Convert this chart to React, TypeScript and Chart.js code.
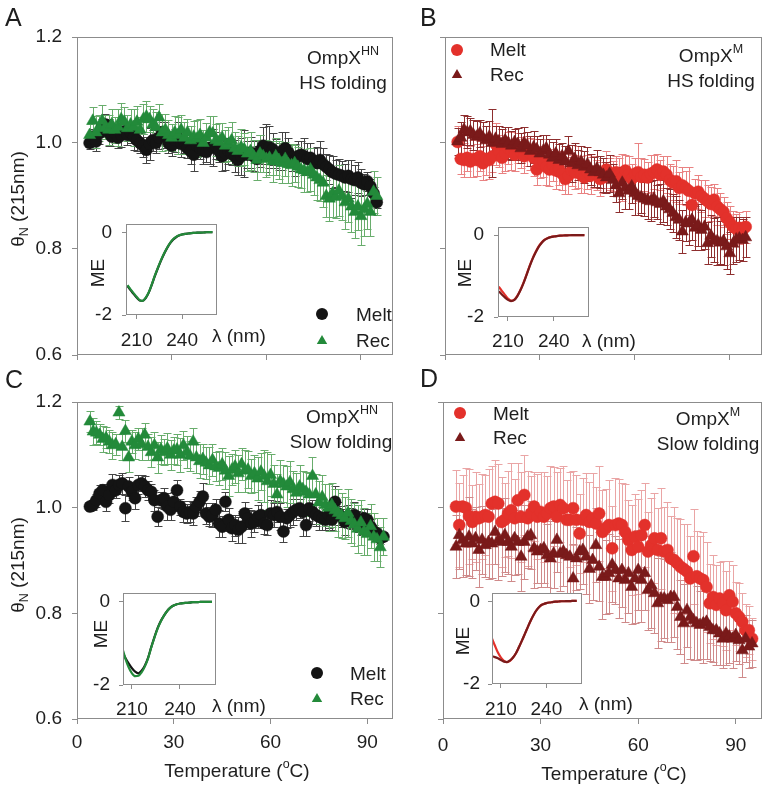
import React, { useEffect, useRef } from "react";
import { Chart, registerables } from "chart.js";

Chart.register(...registerables);

const FONT = "'Liberation Sans', Arial, Helvetica, sans-serif";
const TEXT = "#1e1e1e";
const AXIS = "#8c8c8c";

// ---------------- data ----------------
const temperatures = [
  4, 5, 6, 7, 8, 9, 10, 11, 12, 13,
  14, 15, 16, 17, 18, 19, 20, 21, 22, 23,
  24, 25, 26, 27, 28, 29, 30, 31, 32, 33,
  34, 35, 36, 37, 38, 39, 40, 41, 42, 43,
  44, 45, 46, 47, 48, 49, 50, 51, 52, 53,
  54, 55, 56, 57, 58, 59, 60, 61, 62, 63,
  64, 65, 66, 67, 68, 69, 70, 71, 72, 73,
  74, 75, 76, 77, 78, 79, 80, 81, 82, 83,
  84, 85, 86, 87, 88, 89, 90, 91, 92, 93,
  94, 95,
];

const xTickValues = [0, 30, 60, 90];
const yTickValues = [0.6, 0.8, 1.0, 1.2];
const insetXTickValues = [210, 240];
const insetYTickValues = [-2, 0];

// Panel A: OmpX HN, HS folding
const meltA = [
  1.000, 1.012, 1.003, 1.018, 1.030, 1.035, 1.020, 1.012, 1.018, 1.010,
  1.015, 1.022, 1.015, 1.020, 1.012, 1.005, 1.000, 0.995, 0.987, 0.998,
  1.005, 1.000, 1.010, 1.020, 1.015, 1.000, 0.995, 1.005, 1.010, 0.998,
  1.002, 0.990, 0.985, 0.978, 0.995, 0.990, 0.985, 0.983, 0.990, 0.992,
  0.995, 0.985, 0.975, 0.980, 0.985, 0.980, 0.975, 0.968, 0.975, 0.980,
  0.978, 0.982, 0.975, 0.970, 0.985, 0.995, 0.990, 0.992, 0.988, 0.980,
  0.975, 0.985, 0.990, 0.982, 0.972, 0.968, 0.975, 0.978, 0.975, 0.970,
  0.972, 0.965, 0.962, 0.968, 0.960, 0.955, 0.950, 0.945, 0.942, 0.940,
  0.938, 0.935, 0.938, 0.932, 0.930, 0.935, 0.925, 0.922, 0.928, 0.918,
  0.905, 0.888,
];
const recA = [
  1.015, 1.042, 1.020, 1.028, 1.042, 1.030, 1.025, 1.035, 1.025, 1.030,
  1.045, 1.040, 1.028, 1.035, 1.030, 1.040, 1.025, 1.045, 1.050, 1.045,
  1.035, 1.030, 1.048, 1.020, 1.025, 1.015, 1.010, 1.020, 1.015, 1.025,
  1.010, 1.020, 1.005, 1.012, 1.008, 1.015, 1.000, 1.010, 1.020, 1.018,
  1.005, 1.002, 1.010, 0.995, 0.998, 1.005, 0.990, 0.985, 0.992, 0.988,
  0.980, 0.985, 0.975, 0.968, 0.980, 0.975, 0.970, 0.972, 0.965, 0.975,
  0.968, 0.962, 0.970, 0.960, 0.958, 0.962, 0.955, 0.950, 0.948, 0.945,
  0.950, 0.940, 0.935, 0.930, 0.925, 0.900, 0.895, 0.905, 0.898, 0.910,
  0.900, 0.888, 0.895, 0.880, 0.870, 0.880, 0.862, 0.875, 0.885, 0.870,
  0.908, 0.900,
];
const errMeltA = [
  0.012, 0.015, 0.018, 0.020, 0.015, 0.020, 0.025, 0.018, 0.015, 0.020,
  0.022, 0.015, 0.018, 0.020, 0.025, 0.020, 0.018, 0.022, 0.025, 0.030,
  0.020, 0.018, 0.022, 0.020, 0.025, 0.018, 0.020, 0.022, 0.030, 0.025,
  0.020, 0.018, 0.025, 0.030, 0.022, 0.020, 0.025, 0.018, 0.030, 0.035,
  0.025, 0.020, 0.028, 0.030, 0.025, 0.022, 0.030, 0.028, 0.035, 0.045,
  0.025, 0.030, 0.028, 0.025, 0.030, 0.035, 0.045, 0.040, 0.030, 0.028,
  0.025, 0.035, 0.030, 0.028, 0.025, 0.030, 0.028, 0.025, 0.035, 0.030,
  0.028, 0.025, 0.030, 0.035, 0.030, 0.025, 0.028, 0.030, 0.025, 0.030,
  0.028, 0.025, 0.030, 0.035, 0.028, 0.030, 0.025, 0.020, 0.018, 0.015,
  0.012, 0.010,
];
const errRecA = [
  0.020, 0.025, 0.030, 0.025, 0.030, 0.022, 0.028, 0.030, 0.025, 0.035,
  0.030, 0.028, 0.025, 0.030, 0.035, 0.030, 0.025, 0.028, 0.030, 0.025,
  0.030, 0.028, 0.025, 0.035, 0.030, 0.028, 0.025, 0.030, 0.035, 0.028,
  0.030, 0.025, 0.028, 0.030, 0.035, 0.030, 0.025, 0.028, 0.030, 0.032,
  0.030, 0.035, 0.028, 0.030, 0.032, 0.035, 0.030, 0.028, 0.035, 0.030,
  0.032, 0.035, 0.030, 0.038, 0.035, 0.030, 0.035, 0.032, 0.038, 0.035,
  0.035, 0.038, 0.032, 0.035, 0.040, 0.035, 0.038, 0.035, 0.040, 0.038,
  0.040, 0.038, 0.042, 0.040, 0.045, 0.040, 0.042, 0.045, 0.040, 0.048,
  0.045, 0.050, 0.045, 0.048, 0.050, 0.045, 0.055, 0.050, 0.048, 0.045,
  0.040, 0.035,
];

// Panel B: OmpX M, HS folding
const meltB = [
  1.002, 0.970, 0.968, 0.972, 0.965, 0.970, 0.968, 0.975, 0.962, 0.970,
  0.968, 0.975, 0.998, 0.985, 0.972, 0.980, 0.990, 0.985, 0.978, 0.990,
  0.982, 0.975, 0.985, 0.980, 0.972, 0.950, 0.962, 0.965, 0.955, 0.950,
  0.958, 0.948, 0.952, 0.942, 0.932, 0.938, 0.948, 0.945, 0.955, 0.940,
  0.935, 0.945, 0.938, 0.945, 0.940, 0.932, 0.935, 0.950, 0.942, 0.938,
  0.945, 0.940, 0.935, 0.948, 0.940, 0.932, 0.942, 0.945, 0.936, 0.940,
  0.935, 0.942, 0.945, 0.950, 0.940, 0.946, 0.940, 0.930, 0.925, 0.928,
  0.915, 0.920, 0.915, 0.910, 0.883, 0.905, 0.908, 0.900, 0.895, 0.890,
  0.885, 0.893, 0.880, 0.875, 0.870, 0.858, 0.850, 0.842, 0.838, 0.840,
  0.836, 0.842,
];
const recB = [
  1.003, 1.010, 1.025, 1.020, 1.022, 1.015, 1.012, 1.018, 1.010, 1.005,
  1.012, 1.000, 1.008, 1.003, 0.998, 1.005, 1.000, 0.995, 1.002, 0.998,
  0.990, 1.000, 0.995, 0.985, 0.992, 0.988, 0.980, 0.985, 0.990, 0.978,
  0.972, 0.980, 0.968, 0.975, 0.965, 0.985, 0.962, 0.970, 0.958, 0.965,
  0.955, 0.960, 0.950, 0.945, 0.952, 0.945, 0.940, 0.935, 0.942, 0.930,
  0.920, 0.905, 0.925, 0.915, 0.910, 0.918, 0.905, 0.900, 0.898, 0.895,
  0.892, 0.890, 0.895, 0.888, 0.885, 0.890, 0.880, 0.875, 0.868, 0.860,
  0.855, 0.833, 0.850, 0.848, 0.855, 0.840, 0.845, 0.836, 0.842, 0.811,
  0.825, 0.817, 0.815, 0.812, 0.815, 0.805, 0.792, 0.810, 0.818, 0.820,
  0.817, 0.822,
];
const errMeltB = [
  0.030, 0.028, 0.032, 0.025, 0.030, 0.035, 0.030, 0.028, 0.032, 0.030,
  0.035, 0.030, 0.040, 0.030, 0.028, 0.032, 0.030, 0.035, 0.030, 0.028,
  0.030, 0.032, 0.028, 0.030, 0.035, 0.030, 0.028, 0.030, 0.035, 0.032,
  0.030, 0.035, 0.032, 0.030, 0.028, 0.035, 0.030, 0.032, 0.040, 0.035,
  0.030, 0.032, 0.035, 0.030, 0.028, 0.032, 0.030, 0.035, 0.030, 0.028,
  0.030, 0.032, 0.045, 0.030, 0.035, 0.028, 0.030, 0.055, 0.035, 0.030,
  0.030, 0.035, 0.032, 0.030, 0.028, 0.030, 0.035, 0.030, 0.032, 0.040,
  0.030, 0.035, 0.032, 0.045, 0.030, 0.028, 0.032, 0.030, 0.035, 0.030,
  0.032, 0.030, 0.035, 0.030, 0.028, 0.030, 0.032, 0.030, 0.028, 0.030,
  0.025, 0.030,
];
const errRecB = [
  0.025, 0.030, 0.028, 0.030, 0.025, 0.028, 0.030, 0.025, 0.030, 0.028,
  0.030, 0.065, 0.025, 0.030, 0.028, 0.025, 0.030, 0.028, 0.025, 0.030,
  0.028, 0.030, 0.025, 0.028, 0.030, 0.025, 0.028, 0.030, 0.025, 0.030,
  0.030, 0.028, 0.030, 0.025, 0.030, 0.028, 0.035, 0.030, 0.028, 0.030,
  0.030, 0.032, 0.030, 0.028, 0.035, 0.030, 0.032, 0.030, 0.035, 0.030,
  0.032, 0.035, 0.030, 0.040, 0.035, 0.032, 0.040, 0.035, 0.030, 0.032,
  0.035, 0.038, 0.035, 0.032, 0.038, 0.040, 0.035, 0.038, 0.035, 0.040,
  0.038, 0.040, 0.035, 0.040, 0.038, 0.042, 0.040, 0.038, 0.042, 0.040,
  0.040, 0.042, 0.045, 0.040, 0.045, 0.042, 0.040, 0.038, 0.042, 0.040,
  0.040, 0.038,
];

// Panel C: OmpX HN, Slow folding
const meltC = [
  1.002, 1.005, 1.014, 1.027, 1.033, 1.011, 1.024, 1.043, 1.033, 1.043,
  1.046, 0.999, 1.040, 1.030, 1.018, 1.043, 1.046, 1.040, 1.033, 1.030,
  1.014, 0.983, 1.014, 1.018, 1.002, 0.996, 1.011, 1.033, 1.002, 0.992,
  0.989, 0.992, 0.989, 1.002, 1.011, 1.021, 0.989, 0.983, 0.986, 0.996,
  0.970, 0.964, 1.011, 0.977, 0.961, 0.967, 0.958, 0.964, 0.989, 0.980,
  0.970, 0.973, 0.983, 0.986, 0.970, 0.967, 0.989, 0.986, 0.992, 0.983,
  0.955, 0.980, 0.986, 0.992, 0.996, 0.999, 0.992, 0.967, 0.999, 0.992,
  0.986, 0.983, 0.980, 0.977, 0.986, 0.977, 1.011, 0.989, 0.983, 0.973,
  0.983, 0.980, 0.986, 0.973, 0.970, 0.980, 0.977, 0.964, 0.955, 0.951,
  0.942, 0.945,
];
const recC = [
  1.163, 1.144, 1.142, 1.138, 1.130, 1.132, 1.125, 1.118, 1.120, 1.180,
  1.115, 1.145, 1.095, 1.125, 1.118, 1.130, 1.120, 1.138, 1.115, 1.105,
  1.118, 1.095, 1.110, 1.105, 1.112, 1.100, 1.108, 1.110, 1.100, 1.118,
  1.105, 1.098, 1.125, 1.095, 1.088, 1.092, 1.085, 1.080, 1.090, 1.078,
  1.075, 1.082, 1.070, 1.060, 1.072, 1.078, 1.065, 1.082, 1.070, 1.072,
  1.060, 1.065, 1.055, 1.068, 1.060, 1.050, 1.062, 1.045, 1.025, 1.050,
  1.045, 1.040, 1.048, 1.035, 1.028, 1.040, 1.035, 1.030, 1.025, 1.060,
  1.025, 1.010, 1.020, 1.005, 1.000, 1.005, 0.995, 0.990, 0.985, 0.980,
  0.990, 0.975, 0.968, 0.960, 0.972, 0.955, 0.950, 0.965, 0.945, 0.940,
  0.925, 0.945,
];
const errMeltC = [
  0.008, 0.010, 0.012, 0.015, 0.012, 0.018, 0.015, 0.020, 0.015, 0.018,
  0.020, 0.025, 0.018, 0.015, 0.020, 0.018, 0.015, 0.020, 0.018, 0.015,
  0.020, 0.018, 0.015, 0.020, 0.025, 0.020, 0.018, 0.020, 0.015, 0.020,
  0.018, 0.020, 0.022, 0.018, 0.020, 0.025, 0.020, 0.018, 0.022, 0.020,
  0.025, 0.020, 0.018, 0.022, 0.025, 0.020, 0.025, 0.030, 0.022, 0.020,
  0.025, 0.020, 0.022, 0.025, 0.020, 0.018, 0.025, 0.022, 0.020, 0.025,
  0.020, 0.018, 0.022, 0.025, 0.020, 0.018, 0.045, 0.020, 0.025, 0.022,
  0.020, 0.025, 0.022, 0.020, 0.025, 0.020, 0.030, 0.022, 0.020, 0.025,
  0.022, 0.020, 0.025, 0.020, 0.022, 0.018, 0.020, 0.015, 0.012, 0.010,
  0.010, 0.008,
];
const errRecC = [
  0.020, 0.025, 0.022, 0.020, 0.025, 0.020, 0.022, 0.025, 0.020, 0.012,
  0.025, 0.020, 0.028, 0.022, 0.025, 0.020, 0.030, 0.022, 0.025, 0.028,
  0.025, 0.030, 0.028, 0.025, 0.030, 0.028, 0.025, 0.030, 0.032, 0.028,
  0.030, 0.028, 0.025, 0.030, 0.032, 0.028, 0.030, 0.035, 0.030, 0.028,
  0.032, 0.030, 0.035, 0.038, 0.030, 0.032, 0.035, 0.030, 0.040, 0.035,
  0.032, 0.035, 0.040, 0.035, 0.050, 0.055, 0.040, 0.035, 0.038, 0.040,
  0.035, 0.038, 0.040, 0.035, 0.038, 0.040, 0.035, 0.038, 0.040, 0.035,
  0.038, 0.040, 0.042, 0.040, 0.045, 0.042, 0.040, 0.045, 0.042, 0.040,
  0.045, 0.042, 0.040, 0.045, 0.042, 0.045, 0.040, 0.042, 0.045, 0.040,
  0.038, 0.035,
];

// Panel D: OmpX M, Slow folding
const meltD = [
  1.002, 0.967, 1.002, 1.000, 0.984, 0.973, 0.983, 0.980, 0.983, 0.986,
  0.983, 1.008, 1.011, 1.008, 0.973, 0.977, 0.989, 0.995, 0.980, 1.014,
  0.983, 1.024, 0.980, 0.989, 1.002, 0.983, 0.992, 0.983, 0.989, 0.999,
  1.002, 0.983, 1.005, 0.999, 0.977, 0.977, 0.999, 0.977, 0.951, 0.977,
  0.986, 0.973, 0.980, 0.970, 0.989, 0.954, 0.961, 0.967, 0.923, 0.967,
  0.970, 0.967, 0.954, 0.939, 0.920, 0.945, 0.926, 0.948, 0.967, 0.917,
  0.929, 0.942, 0.920, 0.942, 0.917, 0.920, 0.904, 0.901, 0.895, 0.888,
  0.884, 0.879, 0.866, 0.908, 0.870, 0.866, 0.863, 0.850, 0.819, 0.831,
  0.816, 0.828, 0.819, 0.806, 0.834, 0.822, 0.800, 0.793, 0.784, 0.768,
  0.768, 0.752,
];
const recD = [
  0.926, 0.948, 0.939, 0.932, 0.945, 0.932, 0.942, 0.920, 0.939, 0.929,
  0.935, 0.932, 0.954, 0.939, 0.935, 0.948, 0.935, 0.926, 0.942, 0.935,
  0.907, 0.935, 0.945, 0.948, 0.923, 0.917, 0.920, 0.923, 0.910, 0.904,
  0.913, 0.939, 0.913, 0.917, 0.910, 0.907, 0.866, 0.904, 0.917, 0.920,
  0.907, 0.884, 0.901, 0.929, 0.888, 0.869, 0.869, 0.876, 0.892, 0.882,
  0.866, 0.882, 0.863, 0.876, 0.850, 0.866, 0.882, 0.863, 0.876, 0.844,
  0.853, 0.838, 0.819, 0.828, 0.828, 0.825, 0.831, 0.831, 0.812, 0.793,
  0.781, 0.806, 0.793, 0.787, 0.781, 0.778, 0.781, 0.784, 0.774, 0.768,
  0.768, 0.762, 0.752, 0.762, 0.756, 0.752, 0.759, 0.749, 0.730, 0.752,
  0.737, 0.743,
];
const errMeltD = [
  0.070, 0.080, 0.060, 0.075, 0.090, 0.070, 0.085, 0.065, 0.080, 0.075,
  0.090, 0.070, 0.080, 0.075, 0.085, 0.070, 0.080, 0.090, 0.075, 0.070,
  0.085, 0.075, 0.090, 0.070, 0.065, 0.080, 0.075, 0.085, 0.070, 0.080,
  0.075, 0.085, 0.070, 0.080, 0.075, 0.090, 0.070, 0.085, 0.075, 0.080,
  0.080, 0.075, 0.085, 0.070, 0.090, 0.080, 0.075, 0.085, 0.080, 0.090,
  0.085, 0.080, 0.090, 0.075, 0.085, 0.080, 0.090, 0.085, 0.080, 0.075,
  0.090, 0.085, 0.080, 0.095, 0.085, 0.090, 0.080, 0.100, 0.085, 0.090,
  0.085, 0.090, 0.080, 0.090, 0.085, 0.080, 0.090, 0.085, 0.075, 0.080,
  0.075, 0.070, 0.080, 0.075, 0.065, 0.070, 0.060, 0.065, 0.055, 0.050,
  0.045, 0.040,
];
const errRecD = [
  0.060, 0.065, 0.070, 0.060, 0.075, 0.065, 0.060, 0.070, 0.065, 0.060,
  0.070, 0.065, 0.060, 0.075, 0.065, 0.070, 0.060, 0.065, 0.070, 0.060,
  0.065, 0.070, 0.060, 0.065, 0.075, 0.060, 0.070, 0.065, 0.060, 0.070,
  0.065, 0.060, 0.070, 0.065, 0.075, 0.070, 0.065, 0.060, 0.070, 0.065,
  0.070, 0.065, 0.075, 0.070, 0.065, 0.080, 0.070, 0.075, 0.070, 0.065,
  0.075, 0.070, 0.080, 0.075, 0.070, 0.085, 0.075, 0.080, 0.070, 0.075,
  0.080, 0.075, 0.085, 0.080, 0.075, 0.080, 0.085, 0.075, 0.080, 0.070,
  0.075, 0.070, 0.080, 0.075, 0.070, 0.065, 0.075, 0.070, 0.065, 0.060,
  0.065, 0.060, 0.055, 0.060, 0.050, 0.055, 0.050, 0.045, 0.050, 0.045,
  0.040, 0.045,
];

// Inset CD spectra (mean residue ellipticity, ME)
const wavelengths = [
  204, 206, 208, 210, 212, 214, 216, 218, 220, 222,
  224, 226, 228, 230, 232, 234, 236, 238, 240, 242,
  244, 246, 248, 250, 252, 254, 256, 258, 260,
];
const insetMeltA = [
  -1.30, -1.40, -1.49, -1.58, -1.65, -1.66, -1.59, -1.46, -1.27, -1.06,
  -0.87, -0.69, -0.53, -0.39, -0.27, -0.18, -0.12, -0.08, -0.055, -0.04,
  -0.03, -0.02, -0.015, -0.01, -0.008, -0.005, 0, 0.003, 0.005,
];
const insetRecA = [
  -1.28, -1.38, -1.47, -1.56, -1.64, -1.66, -1.58, -1.45, -1.26, -1.05,
  -0.86, -0.68, -0.52, -0.38, -0.26, -0.17, -0.11, -0.07, -0.05, -0.04,
  -0.03, -0.02, -0.015, -0.01, -0.008, -0.005, 0, 0.003, 0.005,
];
const insetMeltB = [
  -1.26, -1.36, -1.46, -1.55, -1.60, -1.58, -1.49, -1.35, -1.18, -0.98,
  -0.77, -0.58, -0.42, -0.28, -0.18, -0.11, -0.07, -0.045, -0.03, -0.02,
  -0.012, -0.008, -0.005, -0.002, 0, 0, 0, 0, 0,
];
const insetRecB = [
  -1.37, -1.45, -1.52, -1.58, -1.61, -1.59, -1.50, -1.36, -1.19, -0.99,
  -0.78, -0.59, -0.43, -0.29, -0.19, -0.115, -0.072, -0.047, -0.032, -0.021,
  -0.013, -0.008, -0.005, -0.002, 0, 0, 0, 0, 0,
];
const insetMeltC = [
  -1.22, -1.36, -1.49, -1.60, -1.68, -1.72, -1.66, -1.54, -1.36, -1.10,
  -0.86, -0.64, -0.47, -0.34, -0.23, -0.15, -0.10, -0.07, -0.05, -0.04,
  -0.035, -0.03, -0.02, -0.018, -0.015, -0.012, -0.01, -0.01, -0.01,
];
const insetRecC = [
  -1.12, -1.38, -1.58, -1.72, -1.79, -1.78, -1.70, -1.56, -1.37, -1.11,
  -0.87, -0.65, -0.48, -0.34, -0.23, -0.15, -0.10, -0.07, -0.05, -0.04,
  -0.035, -0.03, -0.02, -0.018, -0.015, -0.012, -0.01, -0.01, -0.01,
];
const insetMeltD = [
  -0.89, -1.07, -1.24, -1.36, -1.44, -1.47, -1.44, -1.36, -1.25, -1.10,
  -0.94, -0.77, -0.60, -0.44, -0.30, -0.19, -0.11, -0.07, -0.045, -0.03,
  -0.02, -0.01, -0.005, 0, 0, 0.005, 0.005, 0.01, 0.01,
];
const insetRecD = [
  -1.33, -1.35, -1.38, -1.42, -1.46, -1.47, -1.43, -1.36, -1.25, -1.10,
  -0.94, -0.77, -0.60, -0.44, -0.30, -0.19, -0.11, -0.07, -0.045, -0.03,
  -0.02, -0.01, -0.005, 0, 0, 0.005, 0.005, 0.01, 0.01,
];

// ---------------- styles ----------------
const BLACK = "#141414";
const GREEN = "#238a3a";
const RED = "#e3312b";
const DARKRED = "#7a1a1a";

type Style = "circle" | "triangle";

function drawMarker(ctx: CanvasRenderingContext2D, style: Style, x: number, y: number, r: number, color: string) {
  ctx.save();
  ctx.fillStyle = color;
  ctx.beginPath();
  if (style === "circle") {
    ctx.arc(x, y, r, 0, Math.PI * 2);
  } else {
    ctx.moveTo(x, y - r);
    ctx.lineTo(x + r * 0.866, y + r * 0.5);
    ctx.lineTo(x - r * 0.866, y + r * 0.5);
    ctx.closePath();
  }
  ctx.fill();
  ctx.restore();
}

const errorBarPlugin = {
  id: "errorBars",
  beforeDatasetsDraw(chart: any) {
    const { ctx, chartArea, scales } = chart;
    const xs = scales.x;
    const ys = scales.y;
    ctx.save();
    ctx.beginPath();
    ctx.rect(chartArea.left, chartArea.top, chartArea.right - chartArea.left, chartArea.bottom - chartArea.top);
    ctx.clip();
    ctx.lineWidth = 1;
    const sets = chart.data.datasets;
    for (let d = sets.length - 1; d >= 0; d--) {
      const ds = sets[d];
      if (!ds.errors) continue;
      ctx.strokeStyle = ds.errorColor;
      ctx.beginPath();
      ds.data.forEach((p: any, i: number) => {
        const e = ds.errors[i] ?? 0;
        const x = Math.round(xs.getPixelForValue(p.x)) + 0.5;
        const yt = Math.round(ys.getPixelForValue(p.y + e)) + 0.5;
        const yb = Math.round(ys.getPixelForValue(p.y - e)) + 0.5;
        ctx.moveTo(x, yt);
        ctx.lineTo(x, yb);
        ctx.moveTo(x - 4, yt);
        ctx.lineTo(x + 4, yt);
        ctx.moveTo(x - 4, yb);
        ctx.lineTo(x + 4, yb);
      });
      ctx.stroke();
    }
    ctx.restore();
  },
};

const framePlugin = {
  id: "frame",
  beforeDraw(chart: any, _args: any, opts: any) {
    if (opts && opts.fill) {
      const { ctx, chartArea: a } = chart;
      ctx.save();
      ctx.fillStyle = opts.fill;
      ctx.fillRect(a.left, a.top, a.right - a.left, a.bottom - a.top);
      ctx.restore();
    }
  },
  afterDraw(chart: any) {
    const { ctx, chartArea: a } = chart;
    ctx.save();
    ctx.strokeStyle = AXIS;
    ctx.lineWidth = 1;
    const l = Math.round(a.left) + 0.5;
    const t = Math.round(a.top) + 0.5;
    const r = Math.round(a.right) - 0.5;
    const b = Math.round(a.bottom) - 0.5;
    ctx.strokeRect(l, t, r - l, b - t);
    ctx.restore();
  },
};

const markerLegendPlugin = {
  id: "markerLegend",
  afterDraw(chart: any, _args: any, opts: any) {
    if (!opts || !opts.items) return;
    const { ctx } = chart;
    opts.items.forEach((it: any) => drawMarker(ctx, it.style, it.x, it.y, it.radius, it.color));
  },
};

// keep the layout exactly where it is asked for: no automatic label padding
const clearPadding = (s: any) => {
  s.paddingTop = 0;
  s.paddingBottom = 0;
  s.paddingLeft = 0;
  s.paddingRight = 0;
};

type Series = { values: number[]; errors: number[]; color: string; errorColor: string; style: Style; radius: number };
type LegendItem = { x: number; y: number; style: Style; color: string; radius: number };
type PanelSpec = {
  left: number; top: number; width: number; height: number;
  yAxisW: number; xAxisH: number; padTop: number; padRight: number;
  xMax: number; showX: boolean; showY: boolean; xPad: number;
  series: Series[]; legend: LegendItem[];
};

function mainConfig(p: PanelSpec): any {
  return {
    type: "scatter",
    data: {
      datasets: p.series.map((s) => ({
        data: temperatures.map((t, i) => ({ x: t, y: s.values[i] })),
        errors: s.errors,
        errorColor: s.errorColor,
        pointStyle: s.style,
        pointRadius: s.radius,
        pointHoverRadius: s.radius,
        backgroundColor: s.color,
        borderColor: s.color,
        borderWidth: 0.5,
        showLine: false,
      })),
    },
    options: {
      responsive: false,
      animation: false,
      devicePixelRatio: 1,
      events: [],
      layout: { padding: { top: p.padTop, right: p.padRight, left: 0, bottom: 0 } },
      plugins: {
        legend: { display: false },
        tooltip: { enabled: false },
        markerLegend: { items: p.legend },
        frame: {},
      },
      scales: {
        x: {
          type: "linear",
          min: 0,
          max: p.xMax,
          afterBuildTicks: (s: any) => { s.ticks = xTickValues.map((v) => ({ value: v })); },
          afterFit: (s: any) => { s.height = p.xAxisH; clearPadding(s); },
          border: { display: false },
          grid: { drawOnChartArea: false, drawTicks: true, tickLength: 5, color: AXIS, tickColor: AXIS },
          ticks: {
            display: p.showX,
            padding: p.xPad,
            color: TEXT,
            maxRotation: 0,
            autoSkip: false,
            font: { family: FONT, size: 19 },
            callback: (v: any) => String(v),
          },
        },
        y: {
          type: "linear",
          min: 0.6,
          max: 1.2,
          afterBuildTicks: (s: any) => { s.ticks = yTickValues.map((v) => ({ value: v })); },
          afterFit: (s: any) => { s.width = p.yAxisW; clearPadding(s); },
          border: { display: false },
          grid: { drawOnChartArea: false, drawTicks: true, tickLength: 5, color: AXIS, tickColor: AXIS },
          ticks: {
            display: p.showY,
            padding: 10,
            color: TEXT,
            font: { family: FONT, size: 19 },
            callback: (v: any) => Number(v).toFixed(1),
          },
        },
      },
    },
    plugins: [framePlugin, errorBarPlugin, markerLegendPlugin],
  };
}

type InsetSpec = {
  left: number; top: number; width: number; height: number;
  yAxisW: number; xAxisH: number; padTop: number; padRight: number;
  xMin: number; xMax: number; yPad: number; xPad: number;
  curves: { values: number[]; color: string }[];
};

function insetConfig(p: InsetSpec): any {
  return {
    type: "scatter",
    data: {
      datasets: p.curves.map((c) => ({
        data: wavelengths.map((w, i) => ({ x: w, y: c.values[i] })),
        showLine: true,
        borderColor: c.color,
        borderWidth: 2.2,
        pointRadius: 0,
        cubicInterpolationMode: "monotone",
      })),
    },
    options: {
      responsive: false,
      animation: false,
      devicePixelRatio: 1,
      events: [],
      layout: { padding: { top: p.padTop, right: p.padRight, left: 0, bottom: 0 } },
      plugins: { legend: { display: false }, tooltip: { enabled: false }, frame: { fill: "#ffffff" } },
      scales: {
        x: {
          type: "linear",
          min: p.xMin,
          max: p.xMax,
          afterBuildTicks: (s: any) => { s.ticks = insetXTickValues.map((v) => ({ value: v })); },
          afterFit: (s: any) => { s.height = p.xAxisH; clearPadding(s); },
          border: { display: false },
          grid: { drawOnChartArea: false, drawTicks: true, tickLength: 4, color: AXIS, tickColor: AXIS },
          ticks: { padding: p.xPad, color: TEXT, maxRotation: 0, autoSkip: false, font: { family: FONT, size: 19 }, callback: (v: any) => String(v) },
        },
        y: {
          type: "linear",
          min: -2,
          max: 0.2,
          afterBuildTicks: (s: any) => { s.ticks = insetYTickValues.map((v) => ({ value: v })); },
          afterFit: (s: any) => { s.width = p.yAxisW; clearPadding(s); },
          border: { display: false },
          grid: { drawOnChartArea: false, drawTicks: true, tickLength: 4, color: AXIS, tickColor: AXIS },
          ticks: { padding: p.yPad, color: TEXT, font: { family: FONT, size: 19 }, callback: (v: any) => String(v) },
        },
      },
    },
    plugins: [framePlugin],
  };
}

function ChartBox({ left, top, width, height, make }: { left: number; top: number; width: number; height: number; make: () => any }) {
  const ref = useRef<HTMLCanvasElement | null>(null);
  useEffect(() => {
    if (!ref.current) return;
    const chart = new Chart(ref.current, make());
    return () => chart.destroy();
  }, []);
  return (
    <div style={{ position: "absolute", left, top, width, height }}>
      <canvas ref={ref} width={width} height={height} style={{ width, height, display: "block" }} />
    </div>
  );
}

function Txt({ x, y, size = 19, align = "center", rotate = false, children }: any) {
  const tx = align === "center" ? "-50%" : "0";
  return (
    <div
      style={{
        position: "absolute",
        left: x,
        top: y,
        fontSize: size,
        lineHeight: 1,
        fontFamily: FONT,
        color: TEXT,
        whiteSpace: "nowrap",
        transform: `translate(${tx}, -50%)${rotate ? " rotate(-90deg)" : ""}`,
      }}
    >
      {children}
    </div>
  );
}

const Sup = ({ children }: any) => (
  <span style={{ fontSize: 12.5, position: "relative", top: -9, verticalAlign: "baseline" }}>{children}</span>
);
const Sub = ({ children }: any) => (
  <span style={{ fontSize: 12.5, position: "relative", top: 4, verticalAlign: "baseline" }}>{children}</span>
);

const CIRCLE_R = 6;
const TRI_R = 7;

const panelA: PanelSpec = {
  left: 0, top: 20, width: 400, height: 350, yAxisW: 77, xAxisH: 15, padTop: 17, padRight: 5,
  xMax: 100, showX: false, showY: true, xPad: 7,
  series: [
    { values: recA, errors: errRecA, color: GREEN, errorColor: "#68ad6c", style: "triangle", radius: TRI_R },
    { values: meltA, errors: errMeltA, color: BLACK, errorColor: "#444444", style: "circle", radius: CIRCLE_R },
  ],
  legend: [
    { x: 322, y: 294, style: "circle", color: BLACK, radius: CIRCLE_R },
    { x: 322, y: 321, style: "triangle", color: GREEN, radius: 6 },
  ],
};
const panelB: PanelSpec = {
  left: 400, top: 20, width: 369, height: 350, yAxisW: 45, xAxisH: 15, padTop: 17, padRight: 6,
  xMax: 100, showX: false, showY: false, xPad: 7,
  series: [
    { values: recB, errors: errRecB, color: DARKRED, errorColor: "#8e2e2e", style: "triangle", radius: TRI_R },
    { values: meltB, errors: errMeltB, color: RED, errorColor: "#e98282", style: "circle", radius: CIRCLE_R },
  ],
  legend: [
    { x: 57, y: 30, style: "circle", color: RED, radius: CIRCLE_R },
    { x: 57, y: 55, style: "triangle", color: DARKRED, radius: 6 },
  ],
};
const panelC: PanelSpec = {
  left: 0, top: 390, width: 400, height: 380, yAxisW: 77, xAxisH: 51, padTop: 12, padRight: 5,
  xMax: 97.8, showX: true, showY: true, xPad: 7,
  series: [
    { values: recC, errors: errRecC, color: GREEN, errorColor: "#68ad6c", style: "triangle", radius: TRI_R },
    { values: meltC, errors: errMeltC, color: BLACK, errorColor: "#444444", style: "circle", radius: CIRCLE_R },
  ],
  legend: [
    { x: 317, y: 283, style: "circle", color: BLACK, radius: CIRCLE_R },
    { x: 317, y: 309, style: "triangle", color: GREEN, radius: 6 },
  ],
};
const panelD: PanelSpec = {
  left: 400, top: 390, width: 369, height: 380, yAxisW: 43, xAxisH: 51, padTop: 12, padRight: 6,
  xMax: 97.9, showX: true, showY: false, xPad: 10,
  series: [
    { values: recD, errors: errRecD, color: DARKRED, errorColor: "#cf8a8a", style: "triangle", radius: TRI_R },
    { values: meltD, errors: errMeltD, color: RED, errorColor: "#eaa5a5", style: "circle", radius: CIRCLE_R },
  ],
  legend: [
    { x: 60, y: 23, style: "circle", color: RED, radius: CIRCLE_R },
    { x: 60, y: 48, style: "triangle", color: DARKRED, radius: 6 },
  ],
};

const insetA: InsetSpec = {
  left: 60, top: 214, width: 170, height: 140, yAxisW: 66, xAxisH: 39, padTop: 10, padRight: 13,
  xMin: 203, xMax: 263, yPad: 10, xPad: 10,
  curves: [{ values: insetRecA, color: GREEN }, { values: insetMeltA, color: BLACK }],
};
const insetB: InsetSpec = {
  left: 430, top: 217, width: 170, height: 140, yAxisW: 68, xAxisH: 40, padTop: 10, padRight: 11,
  xMin: 203.5, xMax: 263, yPad: 10, xPad: 9,
  curves: [{ values: insetRecB, color: DARKRED }, { values: insetMeltB, color: RED }],
};
const insetC: InsetSpec = {
  left: 60, top: 583, width: 170, height: 140, yAxisW: 63, xAxisH: 38, padTop: 10, padRight: 14,
  xMin: 204.4, xMax: 262.5, yPad: 9, xPad: 9,
  curves: [{ values: insetRecC, color: GREEN }, { values: insetMeltC, color: BLACK }],
};
const insetD: InsetSpec = {
  left: 430, top: 583, width: 170, height: 140, yAxisW: 62, xAxisH: 39, padTop: 10, padRight: 18,
  xMin: 204.1, xMax: 263.5, yPad: 8, xPad: 10,
  curves: [{ values: insetRecD, color: DARKRED }, { values: insetMeltD, color: RED }],
};

export default function App() {
  const panels = [panelA, panelB, panelC, panelD];
  const insets = [insetA, insetB, insetC, insetD];
  return (
    <div style={{ position: "absolute", left: 0, top: 0, width: 769, height: 793, background: "#fff", overflow: "hidden" }}>
      {panels.map((p, i) => (
        <ChartBox key={"p" + i} left={p.left} top={p.top} width={p.width} height={p.height} make={() => mainConfig(p)} />
      ))}
      {insets.map((p, i) => (
        <ChartBox key={"i" + i} left={p.left} top={p.top} width={p.width} height={p.height} make={() => insetConfig(p)} />
      ))}

      {/* panel letters */}
      <Txt x={5} y={16.5} size={25} align="left">A</Txt>
      <Txt x={420} y={16.5} size={25} align="left">B</Txt>
      <Txt x={5} y={379} size={25} align="left">C</Txt>
      <Txt x={420} y={378} size={25} align="left">D</Txt>

      {/* annotations */}
      <Txt x={343} y={56.5}>OmpX<Sup>HN</Sup></Txt>
      <Txt x={343} y={82}>HS folding</Txt>
      <Txt x={711} y={55}>OmpX<Sup>M</Sup></Txt>
      <Txt x={711} y={80}>HS folding</Txt>
      <Txt x={342} y={415.5}>OmpX<Sup>HN</Sup></Txt>
      <Txt x={341} y={441}>Slow folding</Txt>
      <Txt x={708} y={418}>OmpX<Sup>M</Sup></Txt>
      <Txt x={708} y={443}>Slow folding</Txt>

      {/* legend labels */}
      <Txt x={356} y={314} align="left">Melt</Txt>
      <Txt x={356} y={340} align="left">Rec</Txt>
      <Txt x={490} y={49} align="left">Melt</Txt>
      <Txt x={490} y={74} align="left">Rec</Txt>
      <Txt x={350} y={673} align="left">Melt</Txt>
      <Txt x={350} y={698} align="left">Rec</Txt>
      <Txt x={493} y={413} align="left">Melt</Txt>
      <Txt x={493} y={437} align="left">Rec</Txt>

      {/* axis titles */}
      <Txt x={16.5} y={198.5} rotate>θ<Sub>N</Sub> (215nm)</Txt>
      <Txt x={16.5} y={565} rotate>θ<Sub>N</Sub> (215nm)</Txt>
      <Txt x={237} y={770}>Temperature (<Sup>o</Sup>C)</Txt>
      <Txt x={614} y={773}>Temperature (<Sup>o</Sup>C)</Txt>

      {/* inset titles */}
      <Txt x={97} y={273} rotate>ME</Txt>
      <Txt x={464} y={273} rotate>ME</Txt>
      <Txt x={100} y={634} rotate>ME</Txt>
      <Txt x={462} y={641} rotate>ME</Txt>
      <Txt x={212} y={335} align="left">λ (nm)</Txt>
      <Txt x={582} y={340} align="left">λ (nm)</Txt>
      <Txt x={212} y={705} align="left">λ (nm)</Txt>
      <Txt x={579} y={703} align="left">λ (nm)</Txt>
    </div>
  );
}
